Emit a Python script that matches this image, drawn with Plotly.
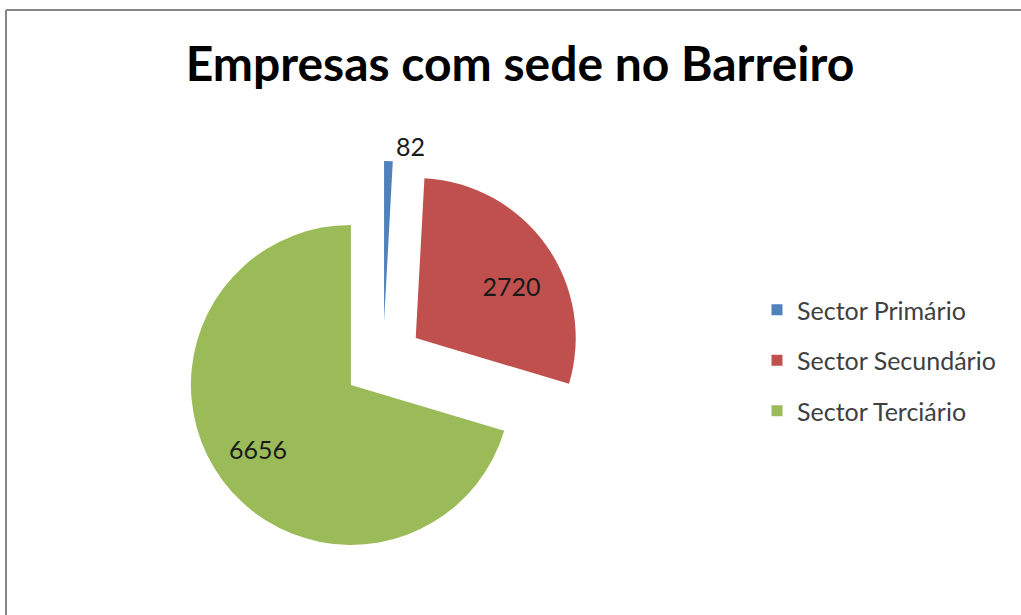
import plotly.graph_objects as go

# dados do gráfico
sectores = ["Sector Primário", "Sector Secundário", "Sector Terciário"]
empresas = [82, 2720, 6656]
cores = ["#4F81BD", "#C0504D", "#9BBB59"]
posicoes_texto = ["outside", "inside", "inside"]

W, H = 1021, 615
NB = "\u00a0"

# centro e meia-largura do domínio da tarta (px)
CX, CY, HALF = 383, 361, 200

fig = go.Figure()

# ------------------------------------------------------------
# Pie (todas as fatias destacadas)
# ------------------------------------------------------------
fig.add_trace(
    go.Pie(
        labels=sectores,
        values=empresas,
        sort=False,
        direction="clockwise",
        rotation=0,
        pull=[0.25, 0.25, 0.25],
        marker=dict(colors=cores, line=dict(width=0)),
        # espaços para aproximar a posição dos rótulos do original
        texttemplate=[
            "%{value}",
            NB * 7 + "%{value}",
            NB + "<br>" + "%{value}" + NB * 9,
        ],
        textposition=posicoes_texto,
        insidetextorientation="horizontal",
        textfont=dict(family="Lato", size=25, color="#1a1a1a"),
        showlegend=False,
        hoverinfo="label+value+percent",
        domain=dict(
            x=[(CX - HALF) / W, (CX + HALF) / W],
            y=[1 - (CY + HALF) / H, 1 - (CY - HALF) / H],
        ),
    )
)

# legenda (entradas separadas para controlar o espaçamento)
for nome, cor in zip(sectores, cores):
    fig.add_trace(
        go.Scatter(
            x=[None],
            y=[None],
            mode="markers",
            marker=dict(symbol="square", size=11, color=cor),
            name=nome,
            legendgroup=nome,
            showlegend=True,
        )
    )

fig.update_layout(
    width=W,
    height=H,
    autosize=False,
    margin=dict(l=0, r=0, t=0, b=0, autoexpand=False),
    paper_bgcolor="white",
    plot_bgcolor="white",
    title=dict(
        text="<b>Empresas com sede no Barreiro</b>",
        x=520 / W,
        xanchor="center",
        y=1 - 64 / H,
        yanchor="middle",
        font=dict(family="Lato", size=48, color="#000000"),
    ),
    xaxis=dict(visible=False),
    yaxis=dict(visible=False),
    legend=dict(
        x=757 / W,
        xanchor="left",
        y=1 - 287 / H,
        yanchor="top",
        tracegroupgap=15,
        font=dict(family="Lato", size=25, color="#404040"),
        bgcolor="rgba(0,0,0,0)",
    ),
    # moldura: só as arestas esquerda e superior ficam visíveis
    shapes=[
        dict(
            type="line", xref="paper", yref="paper",
            x0=6 / W, x1=6 / W, y0=0, y1=1 - 10 / H,
            line=dict(color="#868686", width=2),
        ),
        dict(
            type="line", xref="paper", yref="paper",
            x0=6 / W, x1=1, y0=1 - 10 / H, y1=1 - 10 / H,
            line=dict(color="#868686", width=2),
        ),
    ],
)

fig.write_html(
    "out.html",
    config={"displayModeBar": False},
    post_script=(
        "document.body.style.margin='0px';"
        "document.body.style.overflow='hidden';"
        "document.documentElement.style.overflow='hidden';"
    ),
)
